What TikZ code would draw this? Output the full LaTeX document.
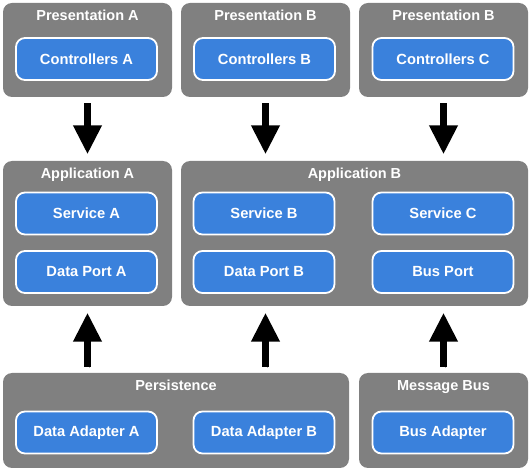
\documentclass[tikz,border=0pt]{standalone}
\usepackage{fontspec}
\setmainfont{Liberation Sans}
\usetikzlibrary{arrows.meta,calc}
\definecolor{cgray}{RGB}{128,128,128}
\definecolor{cblue}{RGB}{58,129,220}
\begin{document}
\begin{tikzpicture}[x=1pt,y=-1pt,
  container/.style={fill=cgray, rounded corners=9pt, inner sep=0pt},
  comp/.style={fill=cblue, draw=white, line width=1.8pt, rounded corners=9pt,
    minimum width=141pt, minimum height=42pt, inner sep=0pt, text=white,
    font=\bfseries\fontsize{14.7}{17}\selectfont},
  ttl/.style={text=white, anchor=base, inner sep=0pt,
    font=\bfseries\fontsize{14.5}{17}\selectfont},
  bigarrow/.style={line width=7pt, -{Triangle[width=27pt,length=29pt]},
    shorten <=6pt, shorten >=6.5pt,
    preaction={draw=black!28, transform canvas={shift={(1.3pt,-1.3pt)}}}}]
\useasboundingbox (0,0) rectangle (531,473);
% containers
\node[container, minimum width=169pt, minimum height=94pt] (presA) at (87.5,50) {};
\node[container, minimum width=169pt, minimum height=94pt] (presB) at (265.5,50) {};
\node[container, minimum width=169pt, minimum height=94pt] (presC) at (443.5,50) {};
\node[container, minimum width=169pt, minimum height=145pt] (appA) at (87.5,233.5) {};
\node[container, minimum width=347pt, minimum height=145pt] (appB) at (354.5,233.5) {};
\node[container, minimum width=346pt, minimum height=95pt] (pers) at (176,420.5) {};
\node[container, minimum width=169pt, minimum height=95pt] (bus) at (443.5,420.5) {};
% titles
\node[ttl] (tpresA) at ($(presA.north)+(0,17.5)$) {Presentation A};
\node[ttl] (tpresB) at ($(presB.north)+(0,17.5)$) {Presentation B};
\node[ttl] (tpresC) at ($(presC.north)+(0,17.5)$) {Presentation B};
\node[ttl] (tappA) at ($(appA.north)+(0,17.5)$) {Application A};
\node[ttl] (tappB) at ($(appB.north)+(0,17.5)$) {Application B};
\node[ttl] (tpers) at ($(pers.north)+(0,17.5)$) {Persistence};
\node[ttl] (tbus) at ($(bus.north)+(0,17.5)$) {Message Bus};
% components
\node[comp] (ctrlA) at (86.5,59) {Controllers A};
\node[comp] (ctrlB) at (264.5,59) {Controllers B};
\node[comp] (ctrlC) at (443,59) {Controllers C};
\node[comp] (svcA) at (86.5,213.5) {Service A};
\node[comp] (dpA) at (86.5,272) {Data Port A};
\node[comp] (svcB) at (264,213.5) {Service B};
\node[comp] (dpB) at (264,272) {Data Port B};
\node[comp] (svcC) at (443,213.5) {Service C};
\node[comp] (bport) at (443,272) {Bus Port};
\node[comp] (daA) at (86.5,432.5) {Data Adapter A};
\node[comp] (daB) at (264,432.5) {Data Adapter B};
\node[comp] (badp) at (443,432.5) {Bus Adapter};
% arrows
\draw[bigarrow] (presA.south) -- (presA.south |- appA.north);
\draw[bigarrow] (presB.south) -- (presB.south |- appB.north);
\draw[bigarrow] (presC.south) -- (presC.south |- appB.north);
\draw[bigarrow] (presA.south |- pers.north) -- (presA.south |- appA.south);
\draw[bigarrow] (presB.south |- pers.north) -- (presB.south |- appB.south);
\draw[bigarrow] (presC.south |- bus.north) -- (presC.south |- appB.south);
\end{tikzpicture}
\end{document}
